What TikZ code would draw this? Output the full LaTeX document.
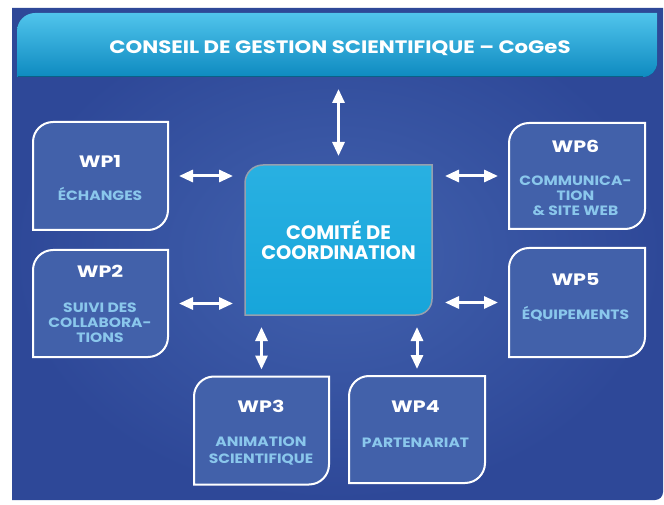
\documentclass[tikz,border=0pt]{standalone}
\usepackage{fontspec}
\setmainfont{Poppins}
\newfontfamily\barfont{Poppins}[FakeStretch=1.18]
\newfontfamily\titlefont{Poppins}[FakeStretch=1.25]
\newfontfamily\subfont{Poppins}[FakeStretch=1.15]
\usetikzlibrary{arrows.meta,calc}

\definecolor{paneldark}{RGB}{46,72,152}
\definecolor{panellight}{RGB}{66,98,174}
\definecolor{boxfill}{RGB}{66,97,170}
\definecolor{cyanmain}{RGB}{24,168,221}
\definecolor{cyanhi}{RGB}{80,196,236}
\definecolor{cyanlo}{RGB}{14,138,192}
\definecolor{subblue}{RGB}{138,199,236}
\definecolor{rimgray}{RGB}{150,160,175}

% outline with rounded top-left and bottom-right corners, built on a node
\newcommand\leafpath[3]{(#1.south west) -- ([yshift=-#2]#1.north west)
  arc[start angle=180,end angle=90,radius=#2] -- (#1.north east)
  -- ([yshift=#3]#1.south east) arc[start angle=0,end angle=-90,radius=#3] -- cycle}

\tikzset{
  frame/.style={inner sep=0pt, outer sep=0pt, draw=none},
  wpbox/.style={fill=boxfill, draw=white, line width=2pt},
  glow/.style={fill=white, fill opacity=0.07},
  title/.style={text=white, font=\titlefont\bfseries\fontsize{16.5}{18}\selectfont, anchor=base, inner sep=0pt},
  subtitle/.style={text=subblue, font=\subfont\bfseries\fontsize{13.5}{15}\selectfont, anchor=base, inner sep=0pt},
  bigtext/.style={text=white, font=\bfseries\fontsize{19.5}{22}\selectfont, anchor=base, inner sep=0pt},
  bartext/.style={text=white, font=\barfont\bfseries\fontsize{18}{20}\selectfont, anchor=base, inner sep=0pt},
  biarrow/.style={draw=white, line width=3pt,
    {Triangle[length=14pt,width=12pt]}-{Triangle[length=14pt,width=12pt]}},
}

\begin{document}
\begin{tikzpicture}[x=1pt,y=1pt]
\useasboundingbox (0,0) rectangle (664,504);
\fill[white] (0,0) rectangle (664,504);

% background panel
\shade[inner color=panellight, outer color=paneldark]
  (12,496) -- (663,496) -- (663,12) arc[start angle=0,end angle=-90,radius=8pt] -- (12,4) -- cycle;

% frames of the blocks
\node[frame, minimum width=640pt, minimum height=64pt] (bar) at (337,459) {};
\node[frame, minimum width=187pt, minimum height=150pt] (central) at (338.5,264) {};
\node[frame, minimum width=135pt, minimum height=108pt] (wp1) at (100.5,328) {};
\node[frame, minimum width=135pt, minimum height=107pt] (wp2) at (100.5,200.5) {};
\node[frame, minimum width=136pt, minimum height=106pt] (wp6) at (577,328) {};
\node[frame, minimum width=136pt, minimum height=109pt] (wp5) at (577,201.5) {};
\node[frame, minimum width=135pt, minimum height=108pt] (wp3) at (261.5,73.5) {};
\node[frame, minimum width=136pt, minimum height=107pt] (wp4) at (417,74.5) {};

% top bar
\fill[black, opacity=0.35] [yshift=-4pt] \leafpath{bar}{18pt}{14pt};
\shade[top color=cyanhi, middle color=cyanmain, bottom color=cyanlo] \leafpath{bar}{18pt}{14pt};
\draw[cyanlo!70!black, line width=1pt] ([xshift=1pt,yshift=0.5pt]bar.south west) -- ([xshift=-14pt,yshift=0.5pt]bar.south east);

% central block
\fill[black, opacity=0.4] [xshift=3pt,yshift=-4pt] \leafpath{central}{18pt}{16pt};
\shade[top color=cyanmain!70!cyanhi, middle color=cyanmain, bottom color=cyanmain!90!cyanlo] \leafpath{central}{18pt}{16pt};
\draw[rimgray, line width=1.5pt] \leafpath{central}{18pt}{16pt};

% work package blocks
\foreach \b in {wp1,wp2,wp3,wp4,wp5,wp6}{
  \fill[glow] [xshift=3pt,yshift=-3pt] \leafpath{\b}{20pt}{20pt};
  \draw[wpbox] \leafpath{\b}{20pt}{20pt};
}

% texts
\node[bartext] (bart) at (340,450.7) {CONSEIL DE GESTION SCIENTIFIQUE – CoGeS};
\node[bigtext] (c1) at (338.5,264.7) {COMITÉ DE};
\node[bigtext] (c2) at (338.5,244) {COORDINATION};

\node[title] (t1) at (100,336.5) {WP1};
\node[subtitle] (s1) at (100,303.5) {ÉCHANGES};

\node[title] (t2) at (100,226.7) {WP2};
\node[subtitle] (s2a) at (100,192) {SUIVI DES};
\node[subtitle] (s2b) at (100,176.5) {COLLABORA-};
\node[subtitle] (s2c) at (100,161.5) {TIONS};

\node[title] (t6) at (575.5,351.5) {WP6};
\node[subtitle] (s6a) at (575.5,318) {COMMUNICA-};
\node[subtitle] (s6b) at (575.5,303) {TION};
\node[subtitle] (s6c) at (575.5,288) {\& SITE WEB};

\node[title] (t5) at (575.5,218.5) {WP5};
\node[subtitle] (s5) at (575.5,185) {ÉQUIPEMENTS};

\node[title] (t3) at (261,91.7) {WP3};
\node[subtitle] (s3a) at (261,57.3) {ANIMATION};
\node[subtitle] (s3b) at (261,40.7) {SCIENTIFIQUE};

\node[title] (t4) at (415.5,91.5) {WP4};
\node[subtitle] (s4) at (415.5,57) {PARTENARIAT};

% connectors
\draw[biarrow, shorten <=9pt, shorten >=12pt] (central.north) -- (central.north |- bar.south);
\draw[biarrow, shorten <=11pt, shorten >=12pt] (wp1.east) -- (wp1.east -| central.west);
\draw[biarrow, shorten <=11pt, shorten >=12pt] (wp2.east) -- (wp2.east -| central.west);
\draw[biarrow, shorten <=11pt, shorten >=13pt] (wp6.west) -- (wp6.west -| central.east);
\draw[biarrow, shorten <=11pt, shorten >=13pt] (wp5.west) -- (wp5.west -| central.east);
\draw[biarrow, shorten <=7pt, shorten >=12pt] (wp3.north) -- (wp3.north |- central.south);
\draw[biarrow, shorten <=7pt, shorten >=12pt] (wp4.north) -- (wp4.north |- central.south);
\end{tikzpicture}
\end{document}
